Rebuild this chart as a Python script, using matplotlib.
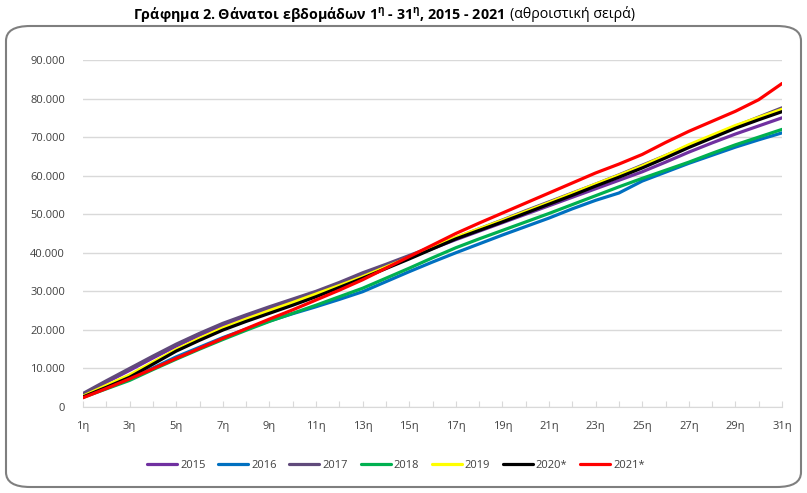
import matplotlib
matplotlib.use("Agg")
import numpy as np
import matplotlib.pyplot as plt
from matplotlib.patches import FancyBboxPatch
from matplotlib.ticker import FuncFormatter

plt.rcParams["font.family"] = ["Open Sans", "DejaVu Sans"]

weeks = np.arange(1, 32)
week_labels = [f"{w}η" if w % 2 == 1 else "" for w in weeks]

# cumulative deaths per week
deaths_2015 = [3200, 6400, 9500, 12700, 15800, 18600, 21200, 23500, 25600, 27700,
               29700, 31800, 34000, 36400, 38700, 41100, 43400, 45600, 47800, 50000,
               52200, 54400, 56600, 58800, 61000, 63500, 66100, 68500, 70800, 72900, 75000]
deaths_2016 = [2600, 4900, 7200, 10100, 13000, 15500, 18000, 20200, 22300, 24200,
               26000, 27900, 29900, 32500, 35100, 37600, 40000, 42300, 44600, 46800,
               49000, 51400, 53600, 55500, 58600, 60900, 63200, 65300, 67400, 69300, 71100]
deaths_2017 = [3500, 6800, 10000, 13200, 16300, 19100, 21700, 23900, 26000, 28000,
               30000, 32300, 34800, 37000, 39300, 41600, 43900, 46200, 48500, 50900,
               53200, 55500, 57800, 60200, 62700, 65200, 67800, 70300, 72800, 75200, 77600]
deaths_2018 = [2500, 4700, 6900, 9700, 12400, 15000, 17500, 19900, 22200, 24300,
               26400, 28600, 30800, 33400, 36000, 38700, 41300, 43600, 45800, 48000,
               50200, 52500, 54800, 57100, 59300, 61400, 63500, 65800, 68000, 70000, 72000]
deaths_2019 = [2800, 5600, 8300, 11600, 14900, 17800, 20500, 22800, 25000, 27100,
               29300, 31500, 33800, 36300, 38800, 41400, 44000, 46200, 48400, 50700,
               53000, 55400, 57800, 60100, 62500, 65200, 68000, 70500, 73000, 75100, 77200]
deaths_2020 = [2600, 5100, 7700, 11100, 14500, 17300, 19950, 22200, 24300, 26400,
               28600, 31000, 33400, 35900, 38400, 41000, 43600, 45800, 48000, 50300,
               52600, 54900, 57300, 59600, 62000, 64600, 67300, 69800, 72300, 74500, 76600]
deaths_2021 = [2400, 4800, 7300, 9900, 12600, 15200, 17800, 20300, 22800, 25200,
               27750, 30300, 33000, 36000, 39000, 42000, 45000, 47700, 50300, 52900,
               55500, 58100, 60700, 63000, 65500, 68600, 71500, 74100, 76700, 79700, 83900]

series_labels = ["2015", "2016", "2017", "2018", "2019", "2020*", "2021*"]
series = [deaths_2015, deaths_2016, deaths_2017, deaths_2018,
          deaths_2019, deaths_2020, deaths_2021]
colors = ["#7030A0", "#0070C0", "#604A7B", "#00B050", "#FFFF00", "#000000", "#FF0000"]

fig = plt.figure(figsize=(8.07, 4.93), dpi=100)

# rounded chart border
border = FancyBboxPatch((6 / 807, 6 / 493), 795 / 807, 461 / 493,
                        boxstyle="round,pad=0,rounding_size=0.03",
                        transform=fig.transFigure, facecolor="none",
                        edgecolor="#7F7F7F", linewidth=1.5, zorder=0)
fig.patches.append(border)

ax = fig.add_axes([83 / 807, 86 / 493, 699 / 807, 347 / 493])
ax.patch.set_alpha(0)

for vals, lab, col in zip(series, series_labels, colors):
    ax.plot(weeks, vals, color=col, linewidth=2.3, label=lab, solid_capstyle="round")

ax.set_xlim(1, 31)
ax.set_ylim(0, 90000)
ax.set_yticks(np.arange(0, 90001, 10000))
ax.yaxis.set_major_formatter(FuncFormatter(lambda v, p: f"{int(v):,}".replace(",", ".")))
ax.set_xticks(weeks)
ax.set_xticklabels(week_labels)
ax.grid(axis="y", color="#D9D9D9", linewidth=1)
ax.set_axisbelow(True)
for s in ["top", "right", "left"]:
    ax.spines[s].set_visible(False)
ax.spines["bottom"].set_color("#D9D9D9")
ax.tick_params(axis="x", direction="in", length=4, color="#D9D9D9",
               labelsize=8, pad=10, labelcolor="#404040")
ax.tick_params(axis="y", length=0, labelsize=8, pad=13, labelcolor="#404040")

ax.legend(loc="center", bbox_to_anchor=(396 / 807, 28 / 493),
          bbox_transform=fig.transFigure, ncol=7, frameon=False, fontsize=8,
          handlelength=2.7, handletextpad=0.3, columnspacing=1.1,
          labelcolor="#404040")

# two-part title: bold part + regular part
ty = 1 - 14 / 493
t1 = fig.text(0, ty, r"Γράφημα 2. Θάνατοι εβδομάδων 1$^{\mathregular{η}}$ - 31$^{\mathregular{η}}$, 2015 - 2021",
              fontsize=10.3, fontweight="bold", va="center", ha="left")
t2 = fig.text(0, ty, "(αθροιστική σειρά)", fontsize=10.3, va="center", ha="left")
fig.canvas.draw()
r = fig.canvas.get_renderer()
w1 = t1.get_window_extent(r).width
w2 = t2.get_window_extent(r).width
gap = 5
start = 384 - (w1 + gap + w2) / 2
t1.set_x(start / 807)
t2.set_x((start + w1 + gap) / 807)

fig.savefig("out.png", dpi=100)
plt.close(fig)
